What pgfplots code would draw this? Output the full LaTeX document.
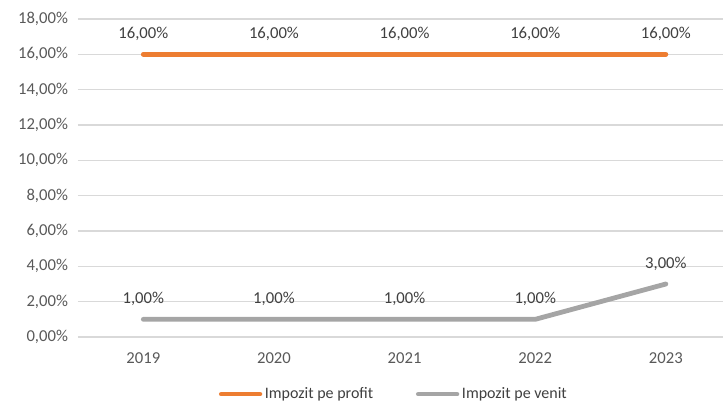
\documentclass[border=0pt]{standalone}
\usepackage{fontspec}
\setmainfont{Carlito}
\usepackage{pgfplots}
\pgfplotsset{compat=1.18}
\definecolor{profitorange}{RGB}{237,125,49}
\definecolor{venitgray}{RGB}{165,165,165}
\definecolor{gridgray}{RGB}{217,217,217}
\definecolor{ticktext}{RGB}{89,89,89}
\definecolor{labeltext}{RGB}{64,64,64}

\begin{document}
\begin{tikzpicture}[x=1pt,y=1pt]
\useasboundingbox (-58.5,-49.5) rectangle (484.5,252.75);
\begin{axis}[
    at={(0,0)}, anchor=south west,
    scale only axis,
    width=484pt, height=238.5pt,
    xmin=-0.5, xmax=4.44,
    ymin=0, ymax=18,
    xtick={0,1,2,3,4},
    xticklabels={2019,2020,2021,2022,2023},
    ytick={0,2,4,6,8,10,12,14,16,18},
    yticklabel={\pgfmathprintnumber[fixed,fixed zerofill,precision=2,use comma]{\tick}\%},
    /pgf/number format/assume math mode=true,
    ymajorgrids,
    grid style={gridgray, line width=0.9pt},
    axis line style={draw=none},
    major tick length=0pt,
    tick label style={font=\fontsize{12.5}{14}\selectfont, text=ticktext},
    xticklabel style={yshift=-8pt},
    yticklabel style={xshift=-4pt},
    clip=false,
    nodes near coords,
    point meta=explicit symbolic,
    every node near coord/.style={font=\fontsize{12.5}{14}\selectfont, text=labeltext, yshift=5pt},
    legend style={at={(0.49,-0.15)}, anchor=north, draw=none, legend columns=2,
        font=\fontsize{12}{14}\selectfont, text=labeltext, inner sep=0pt,
        /tikz/every even column/.style={column sep=30pt}},
    legend image code/.code={\draw[#1, line width=3.5pt, line cap=round] (0pt,0pt) -- (29pt,0pt);},
]
\addplot[profitorange, line width=3.6pt, line cap=round, line join=round] coordinates {
    (0,16) [16,00\%] (1,16) [16,00\%] (2,16) [16,00\%] (3,16) [16,00\%] (4,16) [16,00\%]};
\addlegendentry{Impozit pe profit}
\addplot[venitgray, line width=3.6pt, line cap=round, line join=round] coordinates {
    (0,1) [1,00\%] (1,1) [1,00\%] (2,1) [1,00\%] (3,1) [1,00\%] (4,3) [3,00\%]};
\addlegendentry{Impozit pe venit}
\end{axis}
\end{tikzpicture}
\end{document}
